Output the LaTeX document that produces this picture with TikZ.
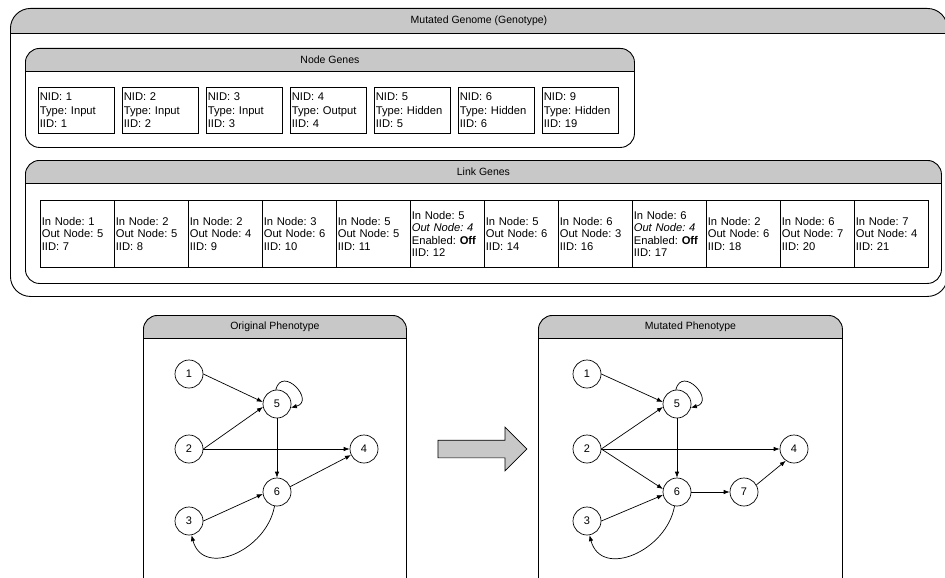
\documentclass[tikz,border=0pt]{standalone}
\usepackage{fontspec}
\setmainfont{Liberation Sans}
\frenchspacing
\usetikzlibrary{arrows.meta, positioning, shapes.arrows}
\definecolor{hdrgray}{RGB}{200,200,200}
\tikzset{
  panel/.style={draw, line width=0.9pt, anchor=north west, inner sep=0pt,
    rounded corners=14pt,
    path picture={
      \fill[hdrgray, sharp corners] (path picture bounding box.north west)
        rectangle ([yshift=-#1]path picture bounding box.north east);
      \draw[line width=0.9pt, sharp corners]
        ([yshift=-#1]path picture bounding box.north west)
        -- ([yshift=-#1]path picture bounding box.north east);
    }},
  hdrtitle/.style={font=\fontsize{10.5}{12}\selectfont, inner sep=1pt},
  genecell/.style={draw, line width=0.6pt, anchor=north west,
    minimum width=76pt, minimum height=46pt, text width=73pt,
    inner sep=1.5pt, align=left, font=\fontsize{11.2}{13.5}\selectfont},
  linkcell/.style={draw, line width=0.6pt, anchor=north west,
    minimum width=74pt, minimum height=67pt, text width=71pt,
    inner sep=1.5pt, align=left, font=\fontsize{11.2}{12.5}\selectfont},
  neuron/.style={draw, circle, line width=0.7pt, minimum size=28pt,
    inner sep=0pt, font=\fontsize{11}{12}\selectfont},
  arr/.style={-{Latex[length=6pt,width=4.5pt]}, line width=0.7pt},
  shiftarrow/.style={single arrow, draw, line width=0.7pt, fill=hdrgray,
    minimum height=89pt, inner xsep=0pt, inner ysep=8.5pt,
    single arrow head extend=13pt},
}

\begin{document}
\begin{tikzpicture}[x=1pt, y=-1pt]
  \useasboundingbox (0,0) rectangle (945,578);
  \clip (0,0) rectangle (945,578);

  % genotype
  \node[panel=25pt, rounded corners=20pt, minimum width=937pt, minimum height=288pt] (genome) at (10,8) {};
  \node[hdrtitle] (tgenome) at ([yshift=-12.5pt]genome.north) {Mutated Genome (Genotype)};

  \node[panel=23pt, minimum width=609pt, minimum height=99pt] (nodegenes) at (25,48) {};
  \node[hdrtitle] (tnodegenes) at ([yshift=-11.5pt]nodegenes.north) {Node Genes};

  \foreach \i/\nid/\typ/\iid in {0/1/Input/1, 1/2/Input/2, 2/3/Input/3, 3/4/Output/4,
                                 4/5/Hidden/5, 5/6/Hidden/6, 6/9/Hidden/19} {
    \node[genecell] (ng\i) at ({38+84*\i},87) {NID: \nid\\Type: \typ\\IID: \iid};
  }

  \node[panel=23pt, minimum width=916pt, minimum height=123pt] (linkgenes) at (25,160) {};
  \node[hdrtitle] (tlinkgenes) at ([yshift=-11.5pt]linkgenes.north) {Link Genes};

  \foreach \i/\txt in {
      0/{In Node: 1\\Out Node: 5\\IID: 7},
      1/{In Node: 2\\Out Node: 5\\IID: 8},
      2/{In Node: 2\\Out Node: 4\\IID: 9},
      3/{In Node: 3\\Out Node: 6\\IID: 10},
      4/{In Node: 5\\Out Node: 5\\IID: 11},
      5/{In Node: 5\\\textit{Out Node: 4}\\Enabled: \textbf{Off}\\IID: 12},
      6/{In Node: 5\\Out Node: 6\\IID: 14},
      7/{In Node: 6\\Out Node: 3\\IID: 16},
      8/{In Node: 6\\\textit{Out Node: 4}\\Enabled: \textbf{Off}\\IID: 17},
      9/{In Node: 2\\Out Node: 6\\IID: 18},
      10/{In Node: 6\\Out Node: 7\\IID: 20},
      11/{In Node: 7\\Out Node: 4\\IID: 21}} {
    \node[linkcell] (lg\i) at ({40+74*\i},200) {\txt};
  }

  % original phenotype
  \node[panel=23pt, minimum width=263pt, minimum height=290pt] (origpheno) at (143,315) {};
  \node[hdrtitle] (torig) at ([yshift=-11.5pt]origpheno.north) {Original Phenotype};

  \node[neuron] (o1) at (189,374) {1};
  \node[neuron] (o5) at (277,404) {5};
  \node[neuron] (o2) at (189,449) {2};
  \node[neuron] (o4) at (364,449) {4};
  \node[neuron] (o6) at (277,492) {6};
  \node[neuron] (o3) at (189,521) {3};

  \foreach \a/\b in {o1.east/o5.172, o2.east/o5.192, o2.east/o4.west,
                     o5.south/o6.north, o3.east/o6.188, o6.22/o4.205} {
    \draw[arr] (\a) -- (\b);
  }
  \draw[arr] (o5.95) to[out=75, in=15, looseness=2.8] (o5.-15);
  \draw[arr] (o6.-100) to[out=-100, in=-75, looseness=1.3] (o3.-80);

  \node[shiftarrow] (shift) at (478,449) {};

  % mutated phenotype
  \node[panel=23pt, minimum width=304pt, minimum height=290pt] (mutpheno) at (538,315) {};
  \node[hdrtitle] (tmut) at ([yshift=-11.5pt]mutpheno.north) {Mutated Phenotype};

  \node[neuron] (m1) at (587,374) {1};
  \node[neuron] (m5) at (677,404) {5};
  \node[neuron] (m2) at (587,449) {2};
  \node[neuron] (m4) at (794,449) {4};
  \node[neuron] (m6) at (677,492) {6};
  \node[neuron] (m7) at (744,492) {7};
  \node[neuron] (m3) at (587,521) {3};

  \foreach \a/\b in {m1.east/m5.172, m2.east/m5.192, m2.east/m4.west,
                     m5.south/m6.north, m2.east/m6.168, m3.east/m6.192,
                     m6.east/m7.west, m7.30/m4.235} {
    \draw[arr] (\a) -- (\b);
  }
  \draw[arr] (m5.95) to[out=75, in=15, looseness=2.8] (m5.-15);
  \draw[arr] (m6.-100) to[out=-100, in=-75, looseness=1.3] (m3.-80);
\end{tikzpicture}
\end{document}
